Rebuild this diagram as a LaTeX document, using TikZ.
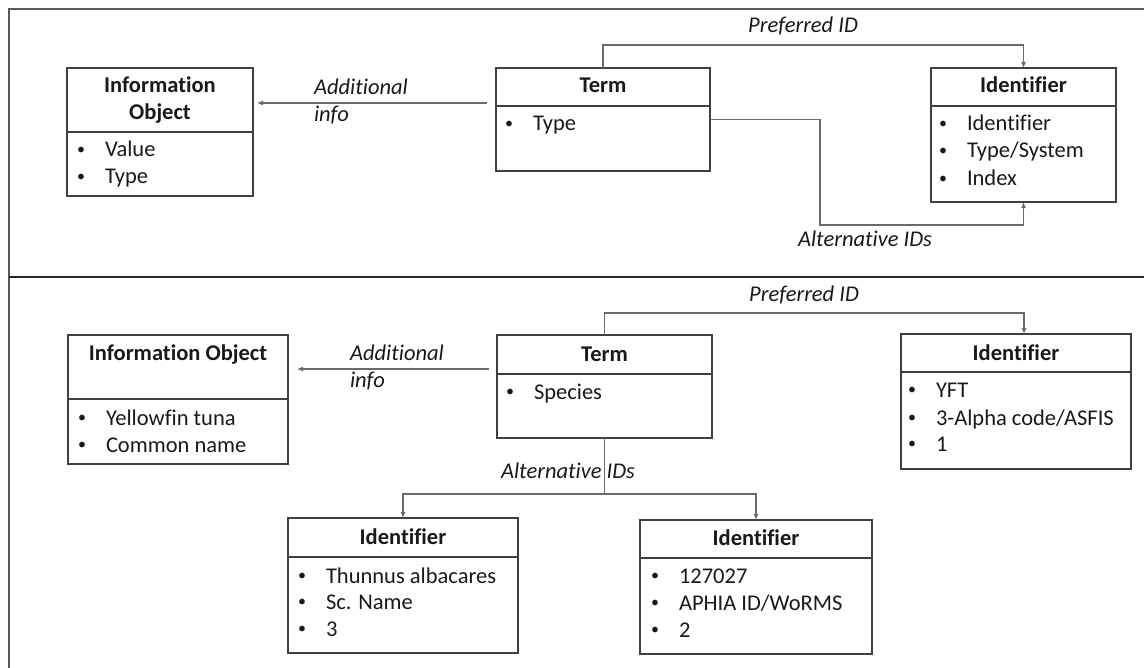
\documentclass[tikz,border=0pt]{standalone}
\usepackage{fontspec}
\setmainfont[Ligatures=NoCommon]{Carlito}
\usetikzlibrary{arrows.meta,calc}
\begin{document}
\begin{tikzpicture}[x=1bp,y=-1bp,
  txt/.style={inner sep=0pt, outer sep=0pt, text=black!90, font=\fontsize{22.5bp}{27bp}\selectfont},
  ttl/.style={txt, font=\fontsize{22.5bp}{27bp}\selectfont\bfseries, anchor=base},
  itm/.style={txt, anchor=base west},
  lbl/.style={txt, font=\fontsize{22.5bp}{27bp}\selectfont\itshape},
  umlbox/.style={draw=black!75, line width=1.1bp, inner sep=0pt, outer sep=0pt, anchor=north west},
  sep/.style={draw=black!75, line width=1.1bp},
  conn/.style={draw=black!58, line width=1.1bp},
  arr/.style={conn, -{Latex[length=6bp,width=5bp]}},
  frame/.style={draw=black!65, line width=1.2bp},
  divl/.style={draw=black!85, line width=1.8bp},
]
\useasboundingbox (0,0) rectangle (1144,668);
\newcommand{\bul}[1]{\makebox[29bp][l]{\hspace{1bp}\raisebox{2.6bp}{\fontsize{16bp}{16bp}\selectfont\textbullet}}#1}

% frame
\draw[frame] (1144,9) -- (9,9) -- (9,668);
\draw[divl] (9,277) -- (1144,277);

% ---------- top panel ----------
\node[umlbox, minimum width=186bp, minimum height=128bp] (io1) at (67,68) {};
\draw[sep] (67,132) -- (253,132);
\node[ttl] (io1t1) at (160,93) {Information};
\node[ttl] (io1t2) at (160,120) {Object};
\node[itm] (io1a) at (76,157) {\bul{Value}};
\node[itm] (io1b) at (76,184) {\bul{Type}};

\node[umlbox, minimum width=214bp, minimum height=103bp] (t1) at (496,68) {};
\draw[sep] (496,106) -- (710,106);
\node[ttl] (t1t) at (603,93) {Term};
\node[itm] (t1a) at (504,131) {\bul{Type}};

\node[umlbox, minimum width=185bp, minimum height=134bp] (id1) at (931,68) {};
\draw[sep] (931,106) -- (1116,106);
\node[ttl] (id1t) at (1023.5,93) {Identifier};
\node[itm] (id1a) at (938,131) {\bul{Identifier}};
\node[itm] (id1b) at (938,158) {\bul{Type/System}};
\node[itm] (id1c) at (938,186) {\bul{Index}};

\draw[arr] ($(t1.north west)+(-9,35)$) -- ($(io1.north east)+(4,35)$);
\node[lbl, anchor=base west] (l1a) at (314,95) {Additional};
\node[lbl, anchor=base west] (l1b) at (314,122) {info};

\draw[arr] (t1.north) -- ++(0,-23) -| (id1.north);
\node[lbl, anchor=base] (l1p) at (803,33) {Preferred ID};

\draw[arr] (t1.east) -- ++(110,0) |- ($(id1.south)+(0,23)$) -- (id1.south);
\node[lbl, anchor=base] (l1c) at (865,246) {Alternative IDs};

% ---------- bottom panel ----------
\node[umlbox, minimum width=220bp, minimum height=129bp] (io2) at (68,335) {};
\draw[sep] (68,399) -- (288,399);
\node[ttl] (io2t) at (178,360) {Information Object};
\node[itm] (io2a) at (77,425) {\bul{Yellowfin tuna}};
\node[itm] (io2b) at (77,452) {\bul{Common name}};

\node[umlbox, minimum width=215bp, minimum height=103bp] (t2) at (497,335) {};
\draw[sep] (497,374) -- (712,374);
\node[ttl] (t2t) at (604.5,361) {Term};
\node[itm] (t2a) at (505,399) {\bul{Species}};

\node[umlbox, minimum width=230bp, minimum height=135bp] (id2) at (901,334) {};
\draw[sep] (901,372) -- (1131,372);
\node[ttl] (id2t) at (1016,360) {Identifier};
\node[itm] (id2a) at (907,397) {\bul{YFT}};
\node[itm] (id2b) at (907,425) {\bul{3-Alpha code/ASFIS}};
\node[itm] (id2c) at (907,451) {\bul{1}};

\node[umlbox, minimum width=230bp, minimum height=135bp] (id3) at (288,518) {};
\draw[sep] (288,557) -- (518,557);
\node[ttl] (id3t) at (403,544) {Identifier};
\node[itm] (id3a) at (297,583) {\bul{Thunnus albacares}};
\node[itm] (id3b) at (297,609) {\bul{Sc. Name}};
\node[itm] (id3c) at (297,636) {\bul{3}};

\node[umlbox, minimum width=232bp, minimum height=134bp] (id4) at (640,520) {};
\draw[sep] (640,558) -- (872,558);
\node[ttl] (id4t) at (756,545) {Identifier};
\node[itm] (id4a) at (650,583) {\bul{127027}};
\node[itm] (id4b) at (650,610) {\bul{APHIA ID/WoRMS}};
\node[itm] (id4c) at (650,637) {\bul{2}};

\draw[arr] ($(t2.north west)+(-8,34)$) -- ($(io2.north east)+(9,34)$);
\node[lbl, anchor=base west] (l2a) at (350,360) {Additional};
\node[lbl, anchor=base west] (l2b) at (350,387) {info};

\draw[arr] (t2.north) -- ++(0,-22) -| ([xshift=8bp]id2.north);
\node[lbl, anchor=base] (l2p) at (804,301) {Preferred ID};

\coordinate (split) at ($(t2.south)+(0,56)$);
\draw[conn] (t2.south) -- (split);
\draw[arr] (split) -| (id3.north);
\draw[arr] (split) -| (id4.north);
\node[lbl, anchor=base] (l2c) at (568,478) {Alternative IDs};
\end{tikzpicture}
\end{document}
